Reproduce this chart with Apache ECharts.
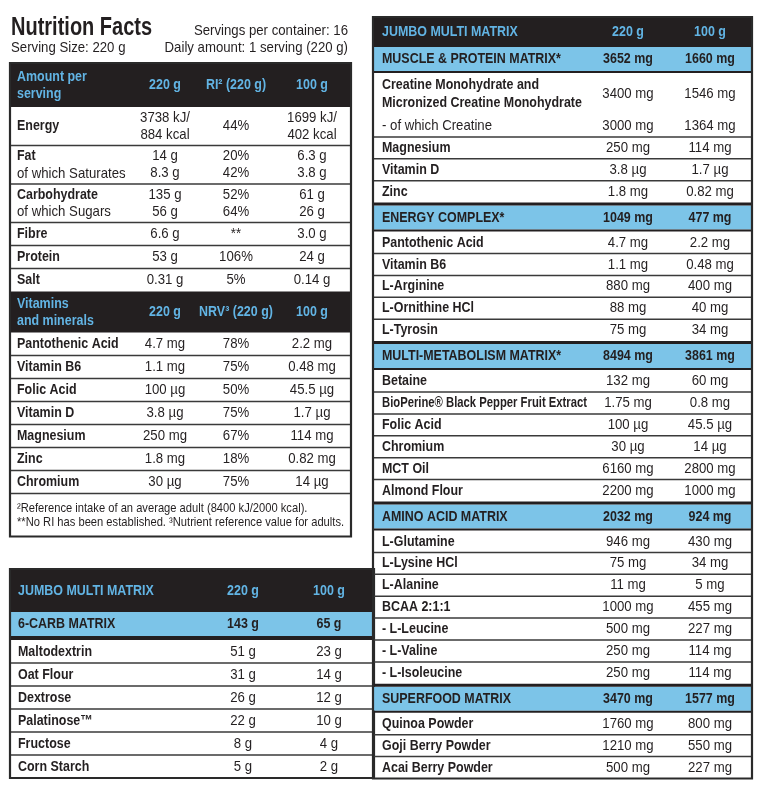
<!DOCTYPE html>
<html>
<head>
<meta charset="utf-8">
<script src="https://cdn.jsdelivr.net/npm/echarts@6/dist/echarts.min.js"></script>
<style>
  html, body { margin: 0; padding: 0; background: #fff; }
  #chart { width: 760px; height: 795px; }
</style>
</head>
<body>
<div id="chart"></div>
<script>
// ---------- data ----------
const nutrientHead = ['Amount per\nserving', '220 g', 'RI² (220 g)', '100 g'];
const nutrientNames = ['Energy', 'Fat\nof which Saturates', 'Carbohydrate\nof which Sugars', 'Fibre', 'Protein', 'Salt'];
const nutrient220 = ['3738 kJ/\n884 kcal', '14 g\n8.3 g', '135 g\n56 g', '6.6 g', '53 g', '0.31 g'];
const nutrientRI = ['44%', '20%\n42%', '52%\n64%', '**', '106%', '5%'];
const nutrient100 = ['1699 kJ/\n402 kcal', '6.3 g\n3.8 g', '61 g\n26 g', '3.0 g', '24 g', '0.14 g'];

const vitaminHead = ['Vitamins\nand minerals', '220 g', 'NRV³ (220 g)', '100 g'];
const vitaminNames = ['Pantothenic Acid', 'Vitamin B6', 'Folic Acid', 'Vitamin D', 'Magnesium', 'Zinc', 'Chromium'];
const vitamin220 = ['4.7 mg', '1.1 mg', '100 µg', '3.8 µg', '250 mg', '1.8 mg', '30 µg'];
const vitaminNRV = ['78%', '75%', '50%', '75%', '67%', '18%', '75%'];
const vitamin100 = ['2.2 mg', '0.48 mg', '45.5 µg', '1.7 µg', '114 mg', '0.82 mg', '14 µg'];

const footnotes = ['²Reference intake of an average adult (8400 kJ/2000 kcal).',
  '**No RI has been established. ³Nutrient reference value for adults.'];

const matrixHead = ['JUMBO MULTI MATRIX', '220 g', '100 g'];

const carbBand = ['6-CARB MATRIX', '143 g', '65 g'];
const carbNames = ['Maltodextrin', 'Oat Flour', 'Dextrose', 'Palatinose™', 'Fructose', 'Corn Starch'];
const carb220 = ['51 g', '31 g', '26 g', '22 g', '8 g', '5 g'];
const carb100 = ['23 g', '14 g', '12 g', '10 g', '4 g', '2 g'];

const muscleBand = ['MUSCLE & PROTEIN MATRIX*', '3652 mg', '1660 mg'];
const muscleNames = ['Creatine Monohydrate and\nMicronized Creatine Monohydrate', '- of which Creatine', 'Magnesium', 'Vitamin D', 'Zinc'];
const muscle220 = ['3400 mg', '3000 mg', '250 mg', '3.8 µg', '1.8 mg'];
const muscle100 = ['1546 mg', '1364 mg', '114 mg', '1.7 µg', '0.82 mg'];

const energyBand = ['ENERGY COMPLEX*', '1049 mg', '477 mg'];
const energyNames = ['Pantothenic Acid', 'Vitamin B6', 'L-Arginine', 'L-Ornithine HCl', 'L-Tyrosin'];
const energy220 = ['4.7 mg', '1.1 mg', '880 mg', '88 mg', '75 mg'];
const energy100 = ['2.2 mg', '0.48 mg', '400 mg', '40 mg', '34 mg'];

const metabBand = ['MULTI-METABOLISM MATRIX*', '8494 mg', '3861 mg'];
const metabNames = ['Betaine', 'BioPerine® Black Pepper Fruit Extract', 'Folic Acid', 'Chromium', 'MCT Oil', 'Almond Flour'];
const metab220 = ['132 mg', '1.75 mg', '100 µg', '30 µg', '6160 mg', '2200 mg'];
const metab100 = ['60 mg', '0.8 mg', '45.5 µg', '14 µg', '2800 mg', '1000 mg'];

const aminoBand = ['AMINO ACID MATRIX', '2032 mg', '924 mg'];
const aminoNames = ['L-Glutamine', 'L-Lysine HCl', 'L-Alanine', 'BCAA 2:1:1', '- L-Leucine', '- L-Valine', '- L-Isoleucine'];
const amino220 = ['946 mg', '75 mg', '11 mg', '1000 mg', '500 mg', '250 mg', '250 mg'];
const amino100 = ['430 mg', '34 mg', '5 mg', '455 mg', '227 mg', '114 mg', '114 mg'];

const superBand = ['SUPERFOOD MATRIX', '3470 mg', '1577 mg'];
const superNames = ['Quinoa Powder', 'Goji Berry Powder', 'Acai Berry Powder'];
const super220 = ['1760 mg', '1210 mg', '500 mg'];
const super100 = ['800 mg', '550 mg', '227 mg'];

// 细体显示的标签
const plainLabels = ['of which Saturates', 'of which Sugars', '- of which Creatine'];

// ---------- styles ----------
const FAMILY = '"Liberation Sans", Arial, sans-serif';
const DARK = '#231f20';
const BLUE = '#7cc4e8';
const HEAD_TEXT = '#62b4e4';
const LINE = '#3a3a3a';
// 没有窄体字体，用水平压缩代替
const SQUEEZE = { bold: 0.83, normal: 0.88 };

const measureCtx = document.createElement('canvas').getContext('2d');

function font(weight, size) {
    return weight + ' ' + size + 'px ' + FAMILY;
}

// ---------- table builder (local units = px) ----------
function newTable(width, labelX, cols, labelMax) {
    return { width, labelX, cols, labelMax: labelMax || Infinity, y: 0, items: [], prevBody: false };
}

function addRect(t, x0, y0, x1, y1, fill, z) {
    t.items.push({ kind: 'rect', x0, y0, x1, y1, fill, z: z || 0 });
}

function addText(t, x, y, text, align, weight, size, color, maxWidth) {
    const f = font(weight, size);
    let scale = SQUEEZE[weight];
    if (maxWidth) {
        measureCtx.font = f;
        scale = Math.min(scale, maxWidth / measureCtx.measureText(text).width);
    }
    t.items.push({ kind: 'text', x0: x, y0: y, x1: x, y1: y, text, align, font: f, scale, color, z: 3 });
}

function cellText(t, x, align, mid, text, lh, weightOf, color, size, maxWidth) {
    const lines = text.split('\n');
    lines.forEach((ln, i) => {
        const y = mid + (i - (lines.length - 1) / 2) * lh;
        addText(t, x, y, ln, align, weightOf(ln, i), size, color, maxWidth);
    });
}

function lineCount(cells) {
    return Math.max(...cells.map(c => c.split('\n').length));
}

function headRow(t, h, cells) {
    addRect(t, 0, t.y, t.width, t.y + h, DARK);
    const mid = t.y + h / 2;
    cellText(t, t.labelX, 'left', mid, cells[0], 17, () => 'bold', HEAD_TEXT, 15);
    cells.slice(1).forEach((c, i) => cellText(t, t.cols[i], 'center', mid, c, 17, () => 'bold', HEAD_TEXT, 15));
    t.y += h;
    t.prevBody = false;
}

function bandRow(t, h, cells) {
    addRect(t, 0, t.y, t.width, t.y + h, BLUE);
    const mid = t.y + h / 2;
    cellText(t, t.labelX, 'left', mid, cells[0], 17, () => 'bold', DARK, 15);
    cells.slice(1).forEach((c, i) => cellText(t, t.cols[i], 'center', mid, c, 17, () => 'bold', DARK, 15));
    t.y += h;
    t.prevBody = false;
}

function gapRow(t, h) {
    addRect(t, 0, t.y, t.width, t.y + h, DARK, 1);
    t.y += h;
    t.prevBody = false;
}

function bodyRow(t, h, cells, noLine) {
    if (t.prevBody && !noLine) addRect(t, 0, t.y - 0.75, t.width, t.y + 0.75, LINE, 1);
    const mid = t.y + h / 2;
    const labelWeight = ln => plainLabels.indexOf(ln) >= 0 ? 'normal' : 'bold';
    cellText(t, t.labelX, 'left', mid, cells[0], 17.5, labelWeight, DARK, 15, t.labelMax);
    cells.slice(1).forEach((c, i) => cellText(t, t.cols[i], 'center', mid, c, 17, () => 'normal', DARK, 15));
    t.y += h;
    t.prevBody = true;
}

function noteRow(t, h, lines) {
    addRect(t, 0, t.y - 0.75, t.width, t.y + 0.75, LINE, 1);
    cellText(t, t.labelX, 'left', t.y + h / 2, lines.join('\n'), 14, () => 'normal', DARK, 12.7);
    t.y += h;
}

function finish(t) {
    t.items.push({ kind: 'frame', x0: 0, y0: 0, x1: t.width, y1: t.y, z: 4 });
    return t;
}

// 营养表
const t1 = newTable(341, 7, [155, 226, 302]);
headRow(t1, 44, nutrientHead);
nutrientNames.forEach((n, i) => {
    const cells = [n, nutrient220[i], nutrientRI[i], nutrient100[i]];
    bodyRow(t1, lineCount(cells) > 1 ? 38.5 : 23, cells);
});
headRow(t1, 41, vitaminHead);
vitaminNames.forEach((n, i) => bodyRow(t1, 23, [n, vitamin220[i], vitaminNRV[i], vitamin100[i]]));
noteRow(t1, 43, footnotes);
finish(t1);

// 6-carb 表
const t2 = newTable(364, 8, [233, 319]);
headRow(t2, 43, matrixHead);
bandRow(t2, 24, carbBand);
gapRow(t2, 4);
carbNames.forEach((n, i) => bodyRow(t2, 23, [n, carb220[i], carb100[i]]));
finish(t2);

// 右侧 matrix 表
const t3 = newTable(379, 9, [255, 337], 205);
headRow(t3, 30, matrixHead);
const sections = [
    [muscleBand, muscleNames, muscle220, muscle100],
    [energyBand, energyNames, energy220, energy100],
    [metabBand, metabNames, metab220, metab100],
    [aminoBand, aminoNames, amino220, amino100],
    [superBand, superNames, super220, super100]
];
sections.forEach((s, si) => {
    if (si > 0) gapRow(t3, 3);
    bandRow(t3, 24, s[0]);
    gapRow(t3, 2);
    let prevDouble = false;
    s[1].forEach((n, i) => {
        const cells = [n, s[2][i], s[3][i]];
        const dbl = lineCount(cells) > 1;
        bodyRow(t3, dbl ? 42 : 21.9, cells, prevDouble);
        prevDouble = dbl;
    });
});
finish(t3);

// ---------- echarts ----------
const tables = [
    { t: t1, left: 10, top: 63 },
    { t: t2, left: 10, top: 569 },
    { t: t3, left: 373, top: 17 }
];

function tableSeries(t, idx) {
    return {
        type: 'custom',
        coordinateSystem: 'cartesian2d',
        xAxisIndex: idx,
        yAxisIndex: idx,
        clip: false,
        silent: true,
        z: 2 + idx,
        encode: { x: [0, 2], y: [1, 3] },
        data: t.items.map(it => [it.x0, it.y0, it.x1, it.y1]),
        renderItem: function (params, api) {
            const it = t.items[params.dataIndex];
            const a = api.coord([it.x0, it.y0]);
            const b = api.coord([it.x1, it.y1]);
            if (it.kind === 'text') {
                return {
                    type: 'text', z2: it.z, x: a[0], y: a[1], scaleX: it.scale,
                    style: { text: it.text, font: it.font, fill: it.color, align: it.align, verticalAlign: 'middle' }
                };
            }
            if (it.kind === 'frame') {
                return {
                    type: 'rect', z2: it.z,
                    shape: { x: a[0], y: a[1], width: b[0] - a[0], height: b[1] - a[1] },
                    style: { fill: null, stroke: '#2a2a2a', lineWidth: 2.2 }
                };
            }
            return {
                type: 'rect', z2: it.z,
                shape: { x: a[0], y: a[1], width: b[0] - a[0], height: b[1] - a[1] },
                style: { fill: it.fill }
            };
        }
    };
}

function titleText(text, x, y, weight, size, align, scale) {
    return {
        type: 'text', x: x, y: y, scaleX: scale || SQUEEZE[weight],
        style: { text: text, font: font(weight, size), fill: DARK, align: align, verticalAlign: 'middle' }
    };
}

const chart = echarts.init(document.getElementById('chart'), null, { renderer: 'canvas' });
chart.setOption({
    animation: false,
    backgroundColor: '#fff',
    grid: tables.map(d => ({ left: d.left, top: d.top, width: d.t.width, height: d.t.y })),
    xAxis: tables.map((d, i) => ({ type: 'value', gridIndex: i, min: 0, max: d.t.width, show: false })),
    yAxis: tables.map((d, i) => ({ type: 'value', gridIndex: i, min: 0, max: d.t.y, inverse: true, show: false })),
    graphic: [
        titleText('Nutrition Facts', 11, 28, 'bold', 25, 'left', 0.8),
        titleText('Serving Size: 220 g', 11, 48, 'normal', 15, 'left'),
        titleText('Servings per container: 16', 348, 31, 'normal', 15, 'right'),
        titleText('Daily amount: 1 serving (220 g)', 348, 48, 'normal', 15, 'right')
    ],
    series: tables.map((d, i) => tableSeries(d.t, i))
});
</script>
</body>
</html>
